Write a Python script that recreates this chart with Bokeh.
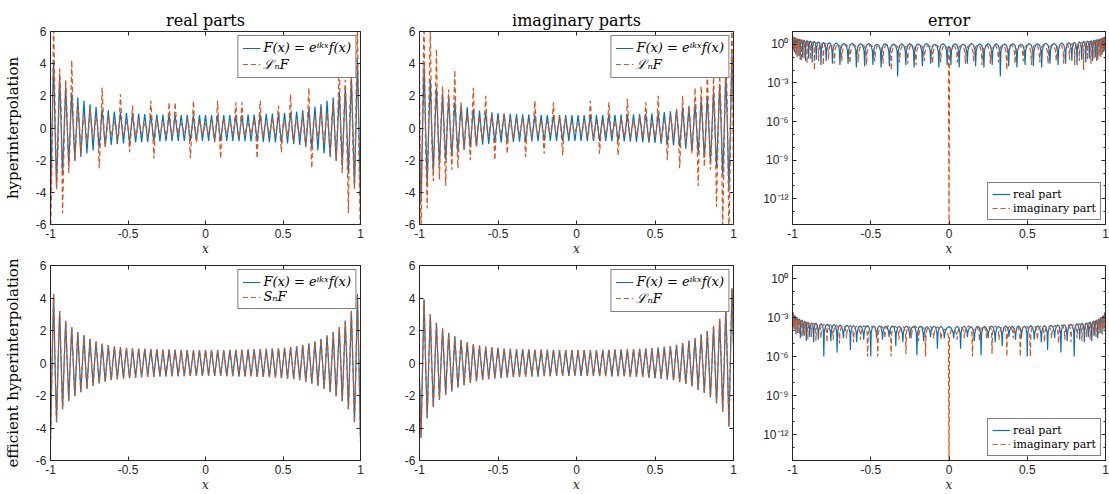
from bokeh.plotting import figure
from bokeh.layouts import row, column
from bokeh.models import Range1d, FixedTicker, LinearAxis, LogAxis, CustomJSTickFormatter
from bokeh.embed import file_html
from bokeh.resources import INLINE

# ---------------- data ----------------
x_ticks = [-1, -0.5, 0, 0.5, 1]
y_ticks = [-6, -4, -2, 0, 2, 4, 6]
log_ticks = [1e-12, 1e-9, 1e-6, 1e-3, 1]
log_minor = [1e-14, 1e-13, 1e-12, 1e-11, 1e-10, 1e-9, 1e-8, 1e-7, 1e-6, 1e-5,
             1e-4, 1e-3, 1e-2, 1e-1, 1, 10]

titles = ["real parts", "imaginary parts", "error"]
row_labels = ["hyperinterpolation", "efficient hyperinterpolation"]

# sample positions of the plotted curves (extrema and zero crossings of F)
x_grid = [
    -1.000, -0.990, -0.980, -0.971, -0.961, -0.951, -0.941, -0.931, -0.922, -0.912,
    -0.902, -0.892, -0.882, -0.873, -0.863, -0.853, -0.843, -0.833, -0.824, -0.814,
    -0.804, -0.794, -0.784, -0.775, -0.765, -0.755, -0.745, -0.735, -0.725, -0.716,
    -0.706, -0.696, -0.686, -0.676, -0.667, -0.657, -0.647, -0.637, -0.627, -0.618,
    -0.608, -0.598, -0.588, -0.578, -0.569, -0.559, -0.549, -0.539, -0.529, -0.520,
    -0.510, -0.500, -0.490, -0.480, -0.471, -0.461, -0.451, -0.441, -0.431, -0.422,
    -0.412, -0.402, -0.392, -0.382, -0.373, -0.363, -0.353, -0.343, -0.333, -0.324,
    -0.314, -0.304, -0.294, -0.284, -0.275, -0.265, -0.255, -0.245, -0.235, -0.225,
    -0.216, -0.206, -0.196, -0.186, -0.176, -0.167, -0.157, -0.147, -0.137, -0.127,
    -0.118, -0.108, -0.098, -0.088, -0.078, -0.069, -0.059, -0.049, -0.039, -0.029,
    -0.020, -0.010,
    0.000, 0.010, 0.020, 0.029, 0.039, 0.049, 0.059, 0.069, 0.078, 0.088,
    0.098, 0.108, 0.118, 0.127, 0.137, 0.147, 0.157, 0.167, 0.176, 0.186,
    0.196, 0.206, 0.216, 0.225, 0.235, 0.245, 0.255, 0.265, 0.275, 0.284,
    0.294, 0.304, 0.314, 0.324, 0.333, 0.343, 0.353, 0.363, 0.373, 0.382,
    0.392, 0.402, 0.412, 0.422, 0.431, 0.441, 0.451, 0.461, 0.471, 0.480,
    0.490, 0.500, 0.510, 0.520, 0.529, 0.539, 0.549, 0.559, 0.569, 0.578,
    0.588, 0.598, 0.608, 0.618, 0.627, 0.637, 0.647, 0.657, 0.667, 0.676,
    0.686, 0.696, 0.706, 0.716, 0.725, 0.735, 0.745, 0.755, 0.765, 0.775,
    0.784, 0.794, 0.804, 0.814, 0.824, 0.833, 0.843, 0.853, 0.863, 0.873,
    0.882, 0.892, 0.902, 0.912, 0.922, 0.931, 0.941, 0.951, 0.961, 0.971,
    0.980, 0.990, 1.000]

# Re F(x)
re_F = [
    -4.80, 0, 4.25, 0, -3.65, 0, 3.20, 0, -2.85, 0,
    2.60, 0, -2.35, 0, 2.20, 0, -2.05, 0, 1.90, 0,
    -1.80, 0, 1.70, 0, -1.58, 0, 1.47, 0, -1.40, 0,
    1.32, 0, -1.26, 0, 1.20, 0, -1.15, 0, 1.10, 0,
    -1.06, 0, 1.03, 0, -1.00, 0, 0.98, 0, -0.96, 0,
    0.94, 0, -0.93, 0, 0.91, 0, -0.90, 0, 0.89, 0,
    -0.88, 0, 0.87, 0, -0.86, 0, 0.85, 0, -0.85, 0,
    0.84, 0, -0.83, 0, 0.83, 0, -0.82, 0, 0.82, 0,
    -0.82, 0, 0.81, 0, -0.81, 0, 0.81, 0, -0.81, 0,
    0.80, 0, -0.80, 0, 0.80, 0, -0.80, 0, 0.80, 0,
    -0.80, 0,
    0.80,
    0, -0.80, 0, 0.80, 0, -0.80, 0, 0.80, 0, -0.80,
    0, 0.80, 0, -0.81, 0, 0.81, 0, -0.81, 0, 0.81,
    0, -0.82, 0, 0.82, 0, -0.82, 0, 0.83, 0, -0.83,
    0, 0.84, 0, -0.85, 0, 0.85, 0, -0.86, 0, 0.87,
    0, -0.88, 0, 0.89, 0, -0.90, 0, 0.91, 0, -0.93,
    0, 0.94, 0, -0.96, 0, 0.98, 0, -1.00, 0, 1.03,
    0, -1.06, 0, 1.10, 0, -1.15, 0, 1.20, 0, -1.26,
    0, 1.32, 0, -1.40, 0, 1.47, 0, -1.58, 0, 1.70,
    0, -1.80, 0, 1.90, 0, -2.05, 0, 2.20, 0, -2.35,
    0, 2.60, 0, -2.85, 0, 3.20, 0, -3.65, 0, 4.25,
    0, -4.80]

# Im F(x)
im_F = [
    -1.10, -4.60, 0, 3.90, 0, -3.40, 0, 3.00, 0, -2.72,
    0, 2.48, 0, -2.28, 0, 2.12, 0, -1.97, 0, 1.85,
    0, -1.75, 0, 1.64, 0, -1.52, 0, 1.43, 0, -1.36,
    0, 1.29, 0, -1.23, 0, 1.17, 0, -1.12, 0, 1.08,
    0, -1.04, 0, 1.01, 0, -0.99, 0, 0.97, 0, -0.95,
    0, 0.93, 0, -0.92, 0, 0.90, 0, -0.89, 0, 0.88,
    0, -0.87, 0, 0.86, 0, -0.85, 0, 0.85, 0, -0.84,
    0, 0.83, 0, -0.83, 0, 0.82, 0, -0.82, 0, 0.82,
    0, -0.81, 0, 0.81, 0, -0.81, 0, 0.81, 0, -0.80,
    0, 0.80, 0, -0.80, 0, 0.80, 0, -0.80, 0, 0.80,
    0, -0.80,
    0,
    0.80, 0, -0.80, 0, 0.80, 0, -0.80, 0, 0.80, 0,
    -0.80, 0, 0.80, 0, -0.81, 0, 0.81, 0, -0.81, 0,
    0.81, 0, -0.82, 0, 0.82, 0, -0.82, 0, 0.83, 0,
    -0.83, 0, 0.84, 0, -0.85, 0, 0.85, 0, -0.86, 0,
    0.87, 0, -0.88, 0, 0.89, 0, -0.90, 0, 0.92, 0,
    -0.93, 0, 0.95, 0, -0.97, 0, 0.99, 0, -1.01, 0,
    1.04, 0, -1.08, 0, 1.12, 0, -1.17, 0, 1.23, 0,
    -1.29, 0, 1.36, 0, -1.43, 0, 1.52, 0, -1.64, 0,
    1.75, 0, -1.85, 0, 1.97, 0, -2.12, 0, 2.28, 0,
    -2.48, 0, 2.72, 0, -3.00, 0, 3.40, 0, -3.90, 0,
    4.60, 1.10]

# Re L_n F (hyperinterpolation, real part)
re_L = [
    -7.00, -2.00,
    6.80, 1.50, -3.80, -1.20, 3.70, 1.00, -5.30, -0.80, 3.00, 0.50,
    -2.80, -0.60, 4.20, 0.50, -2.00, -0.30, 1.50, 0.40, -1.60, -0.20,
    0.90, 0.30, -1.00, -0.30, 1.20, 0.20, -0.60, -0.20, 0.70, 0.30,
    -2.50, -0.40, 2.50, 0.30, -1.20, -0.30, 0.80, 0.20, -0.50, -0.10,
    0.40, 0.20, -0.90, -0.30, 2.10, 0.20, -0.50, -0.10, 0.40, 0.20,
    -1.50, -0.30, 1.40, 0.20, -0.50, -0.20, 0.60, 0.10, -0.40, 0.00,
    0.30, 0.10, -0.60, -0.20, 1.70, 0.20, -1.90, -0.30, 0.60, 0.10,
    -0.40, 0.00, 0.30, 0.10, -0.50, -0.20, 1.60, 0.10, -0.60, -0.20,
    1.60, 0.20, -0.40, 0.10, 0.30, 0.00, -0.30, -0.10, 0.60, 0.20,
    -1.90, -0.30, 1.70, 0.20, -0.90, -0.20, 0.50, 0.10, -0.40, -0.10,
    0.30,
    -0.10, -0.40, 0.10, 0.50, -0.20, -0.90, 0.20, 1.70, -0.30, -1.90,
    0.20, 0.60, -0.10, -0.30, 0.00, 0.30, 0.10, -0.40, 0.20, 1.60,
    -0.20, -0.60, 0.10, 1.60, -0.20, -0.50, 0.10, 0.30, 0.00, -0.40,
    0.10, 0.60, -0.30, -1.90, 0.20, 1.70, -0.20, -0.60, 0.10, 0.30,
    0.00, -0.40, 0.10, 0.60, -0.20, -0.50, 0.20, 1.40, -0.30, -1.50,
    0.20, 0.40, -0.10, -0.50, 0.20, 2.10, -0.30, -0.90, 0.20, 0.40,
    -0.10, -0.50, 0.20, 0.80, -0.30, -1.20, 0.30, 2.50, -0.40, -2.50,
    0.30, 0.70, -0.20, -0.60, 0.20, 1.20, -0.30, -1.00, 0.30, 0.90,
    -0.20, -1.60, 0.40, 1.50, -0.30, -2.00, 0.50, 4.20, -0.60, -2.80,
    0.50, 3.00, -0.80, -5.30, 1.00, 3.70, -1.20, -3.80, 1.50, 6.80,
    -2.00, -7.00]

# Im L_n F (hyperinterpolation, imaginary part)
im_L = [
    3.00, -7.00,
    1.50, 7.00, -1.20, -5.00, 1.00, 6.50, -0.80, -3.30, 0.60, 4.90,
    -0.50, -3.20, 0.50, 2.60, -0.50, -3.60, 0.40, 2.40, -0.30, -2.60,
    0.40, 3.60, -0.40, -2.50, 0.30, 1.60, -0.30, -1.30, 0.20, 0.90,
    -0.20, -2.00, 0.30, 2.50, -0.30, -1.20, 0.20, 0.70, -0.20, -0.80,
    0.30, 2.00, -0.10, -0.50, 0.20, 0.80, -0.30, -2.00, 0.10, 0.60,
    -0.10, -0.40, 0.20, 0.90, -0.20, -1.60, 0.10, 0.60, -0.20, -0.70,
    0.10, 0.50, -0.10, -0.40, 0.10, 0.70, -0.20, -1.80, 0.20, 0.50,
    -0.10, -0.60, 0.20, 1.70, -0.10, -0.40, 0.10, 0.50, -0.20, -1.60,
    0.10, 0.40, -0.10, -0.50, 0.20, 1.60, -0.10, -0.40, 0.10, 0.70,
    -0.20, -1.70, 0.20, 0.60, -0.10, -0.50, 0.10, 0.40, -0.10, -0.30,
    0.00,
    0.30, 0.10, -0.40, -0.10, 0.50, 0.10, -0.60, -0.20, 1.70, 0.20,
    -0.70, -0.10, 0.40, 0.10, -1.60, -0.20, 0.50, 0.10, -0.40, -0.10,
    1.60, 0.20, -0.50, -0.10, 0.40, 0.10, -1.70, -0.20, 0.60, 0.10,
    -0.50, -0.20, 1.80, 0.20, -0.70, -0.10, 0.40, 0.10, -0.50, -0.10,
    0.70, 0.20, -0.60, -0.10, 1.60, 0.20, -0.90, -0.20, 0.40, 0.10,
    -0.60, -0.10, 2.00, 0.30, -0.80, -0.20, 0.50, 0.10, -2.00, -0.30,
    0.80, 0.20, -0.70, -0.20, 1.20, 0.30, -2.50, -0.30, 2.00, 0.20,
    -0.90, -0.20, 1.30, 0.30, -1.60, -0.30, 2.50, 0.40, -3.60, -0.40,
    2.60, 0.30, -2.40, -0.40, 3.60, 0.50, -2.60, -0.50, 3.20, 0.50,
    -4.90, -0.60, 3.30, 0.80, -6.50, -1.00, 5.00, 1.20, -7.00, -1.50,
    7.00, -3.00]

# S_n F and the efficient L_n F agree with F to ~1e-4 (invisible at this scale)
re_S = list(re_F)
im_S = list(im_F)

# error curves: cusp positions, cusp depths (log10) and arc levels (log10)
e1_x = [-0.996, -0.988, -0.977, -0.965, -0.951, -0.935, -0.917, -0.897, -0.874, -0.848,
        -0.818, -0.785, -0.745, -0.697, -0.645, -0.592, -0.539, -0.486, -0.434, -0.381,
        -0.328, -0.276, -0.223, -0.170, -0.117, -0.065, -0.012,
        0.012, 0.065, 0.117, 0.170, 0.223, 0.276, 0.328, 0.381, 0.434, 0.486,
        0.539, 0.592, 0.645, 0.697, 0.745, 0.785, 0.818, 0.848, 0.874, 0.897,
        0.917, 0.935, 0.951, 0.965, 0.977, 0.988, 0.996]
e1_d = [-0.4, -0.6, -0.8, -0.9, -1.2, -1.0, -1.3, -1.1, -1.4, -1.2,
        -1.6, -1.3, -1.5, -1.6, -1.5, -1.8, -1.7, -1.6, -1.8, -1.7,
        -2.5, -1.6, -1.8, -1.7, -1.5, -1.8, -1.6,
        -1.6, -1.8, -1.5, -1.7, -1.8, -1.6, -2.5, -1.7, -1.8, -1.6,
        -1.7, -1.8, -1.5, -1.6, -1.5, -1.3, -1.6, -1.2, -1.4, -1.1,
        -1.3, -1.0, -1.2, -0.9, -0.8, -0.6, -0.4]
e1_t = [0.55, 0.58, 0.52, 0.47, 0.42, 0.38, 0.34, 0.30, 0.26, 0.23,
        0.19, 0.16, 0.13, 0.10, 0.07, 0.08, 0.05, 0.06, 0.02, 0.05,
        0.03, 0.04, 0.05, 0.03, 0.06, 0.02, 0.05, -0.15,
        0.05, 0.02, 0.06, 0.03, 0.05, 0.04, 0.03, 0.05, 0.02, 0.06,
        0.05, 0.08, 0.07, 0.10, 0.13, 0.16, 0.19, 0.23, 0.26, 0.30,
        0.34, 0.38, 0.42, 0.47, 0.52, 0.58, 0.55]

e2_x = [-0.991, -0.981, -0.970, -0.957, -0.943, -0.926, -0.907, -0.885, -0.860, -0.833,
        -0.803, -0.770, -0.733, -0.685, -0.633, -0.580, -0.527, -0.474, -0.422, -0.369,
        -0.316, -0.264, -0.211, -0.158, -0.105, -0.053, 0.000,
        0.053, 0.105, 0.158, 0.211, 0.264, 0.316, 0.369, 0.422, 0.474, 0.527,
        0.580, 0.633, 0.685, 0.733, 0.770, 0.803, 0.833, 0.860, 0.885, 0.907,
        0.926, 0.943, 0.957, 0.970, 0.981, 0.991]
e2_d = [-0.5, -0.7, -1.0, -0.9, -1.3, -1.1, -1.5, -1.2, -2.0, -1.3,
        -1.6, -1.2, -1.5, -1.3, -1.5, -1.4, -1.6, -1.3, -1.5, -2.0,
        -1.4, -1.5, -1.6, -1.3, -1.5, -1.4, -15.0,
        -1.4, -1.5, -1.3, -1.6, -1.5, -1.4, -2.0, -1.5, -1.3, -1.6,
        -1.4, -1.5, -1.3, -1.5, -1.2, -1.6, -1.3, -2.0, -1.2, -1.5,
        -1.1, -1.3, -0.9, -1.0, -0.7, -0.5]
e2_t = [0.50, 0.53, 0.47, 0.41, 0.36, 0.31, 0.27, 0.23, 0.19, 0.15,
        0.11, 0.08, 0.04, 0.00, -0.02, -0.05, -0.03, -0.05, -0.07, -0.04,
        -0.06, -0.05, -0.07, -0.04, -0.08, -0.06, -0.10, -0.10,
        -0.06, -0.08, -0.04, -0.07, -0.05, -0.06, -0.04, -0.07, -0.05, -0.03,
        -0.05, -0.02, 0.00, 0.04, 0.08, 0.11, 0.15, 0.19, 0.23, 0.27,
        0.31, 0.36, 0.41, 0.47, 0.53, 0.50]

e3_x = [-0.990, -0.978, -0.965, -0.950, -0.932, -0.912, -0.890, -0.865, -0.835, -0.800,
        -0.755, -0.715, -0.675, -0.630, -0.590, -0.545, -0.500, -0.463, -0.425, -0.383,
        -0.340, -0.295, -0.250, -0.205, -0.162, -0.118, -0.074, -0.030,
        0.030, 0.074, 0.118, 0.162, 0.205, 0.250, 0.295, 0.340, 0.383, 0.425,
        0.463, 0.500, 0.545, 0.590, 0.630, 0.675, 0.715, 0.755, 0.800, 0.835,
        0.865, 0.890, 0.912, 0.932, 0.950, 0.965, 0.978, 0.990]
e3_d = [-3.9, -4.3, -4.2, -4.6, -4.4, -4.8, -4.5, -4.9, -4.7, -6.0,
        -4.8, -5.7, -4.6, -5.5, -4.9, -4.7, -6.0, -4.6, -4.7, -4.5,
        -5.2, -4.9, -4.6, -5.9, -4.8, -4.5, -5.4, -4.6,
        -4.6, -5.4, -4.5, -4.8, -5.9, -4.6, -4.9, -5.2, -4.5, -4.7,
        -4.6, -6.0, -4.7, -4.9, -5.5, -4.6, -5.7, -4.8, -6.0, -4.7,
        -4.9, -4.5, -4.8, -4.4, -4.6, -4.2, -4.3, -3.9]
e3_t = [-2.65, -2.85, -3.00, -3.10, -3.20, -3.28, -3.35, -3.40, -3.44, -3.48,
        -3.52, -3.55, -3.58, -3.60, -3.62, -3.65, -3.63, -3.66, -3.64, -3.67,
        -3.65, -3.68, -3.66, -3.69, -3.67, -3.70, -3.66, -3.68, -3.70,
        -3.68, -3.66, -3.70, -3.67, -3.69, -3.66, -3.68, -3.65, -3.67, -3.64,
        -3.66, -3.63, -3.65, -3.62, -3.60, -3.58, -3.55, -3.52, -3.48, -3.44,
        -3.40, -3.35, -3.28, -3.20, -3.10, -3.00, -2.85, -2.65]

e4_x = [-0.993, -0.982, -0.970, -0.956, -0.940, -0.922, -0.902, -0.878, -0.850, -0.818,
        -0.780, -0.740, -0.700, -0.655, -0.610, -0.565, -0.520, -0.455, -0.410, -0.370,
        -0.320, -0.275, -0.240, -0.195, -0.150, -0.098, -0.052, 0.000,
        0.052, 0.098, 0.150, 0.195, 0.240, 0.275, 0.320, 0.370, 0.410, 0.455,
        0.520, 0.565, 0.610, 0.655, 0.700, 0.740, 0.780, 0.818, 0.850, 0.878,
        0.902, 0.922, 0.940, 0.956, 0.970, 0.982, 0.993]
e4_d = [-3.8, -4.0, -4.2, -4.3, -4.5, -4.4, -4.7, -4.5, -4.8, -4.6,
        -4.9, -4.7, -5.0, -4.6, -4.9, -4.7, -6.0, -6.0, -4.6, -6.0,
        -4.7, -5.8, -4.6, -4.8, -6.0, -4.6, -4.7, -15.0,
        -4.7, -4.6, -6.0, -4.8, -4.6, -5.8, -4.7, -6.0, -4.6, -6.0,
        -6.0, -4.7, -4.9, -4.6, -5.0, -4.7, -4.9, -4.6, -4.8, -4.5,
        -4.7, -4.4, -4.5, -4.3, -4.2, -4.0, -3.8]
e4_t = [-2.65, -2.85, -3.00, -3.10, -3.19, -3.27, -3.34, -3.40, -3.44, -3.48,
        -3.52, -3.55, -3.58, -3.61, -3.62, -3.66, -3.63, -3.65, -3.67, -3.64,
        -3.68, -3.66, -3.69, -3.65, -3.70, -3.66, -3.72, -3.90, -3.90,
        -3.72, -3.66, -3.70, -3.65, -3.69, -3.66, -3.68, -3.64, -3.67, -3.65,
        -3.63, -3.66, -3.62, -3.61, -3.58, -3.55, -3.52, -3.48, -3.44, -3.40,
        -3.34, -3.27, -3.19, -3.10, -3.00, -2.85, -2.65]

for s in (re_F, im_F, re_L, im_L):
    assert len(s) == len(x_grid), len(s)
for cx, cd, ct in ((e1_x, e1_d, e1_t), (e2_x, e2_d, e2_t), (e3_x, e3_d, e3_t), (e4_x, e4_d, e4_t)):
    assert len(cx) == len(cd) and len(ct) == len(cx) + 1, (len(cx), len(cd), len(ct))

# ---------------- styling ----------------
BLUE, ORANGE, AXC = "#0072BD", "#D95319", "#262626"
SANS, SERIF = "Liberation Sans", "DejaVu Serif"
DASH = "5 3"
LW = 1.2

lin_fmt = CustomJSTickFormatter(code="return String(tick);")
log_fmt = CustomJSTickFormatter(code="""
const e = Math.round(Math.log10(tick));
const m = {"-":"\u207b","0":"\u2070","1":"\u00b9","2":"\u00b2","3":"\u00b3","4":"\u2074",
           "5":"\u2075","6":"\u2076","7":"\u2077","8":"\u2078","9":"\u2079"};
return "10" + String(e).split("").map(c => m[c]).join("");
""")
empty_fmt = CustomJSTickFormatter(code="return '';")


def style_axis(ax, labels=True):
    ax.axis_line_color = AXC
    ax.axis_line_width = 1
    ax.major_tick_line_color = AXC
    ax.minor_tick_line_color = AXC
    ax.major_tick_in = 4
    ax.major_tick_out = 0
    ax.minor_tick_in = 2
    ax.minor_tick_out = 0
    ax.major_label_text_font = SANS
    ax.major_label_text_color = AXC
    if labels:
        ax.major_label_text_font_size = "12px"
        ax.major_label_standoff = 4
    else:
        ax.major_label_text_font_size = "0px"
        ax.major_label_standoff = 0


def panel(width, height, bl, br, bt, bb, log=False, title=None, ylabel=None):
    p = figure(width=width, height=height, output_backend="svg", toolbar_location=None,
               x_range=Range1d(-1, 1),
               y_range=Range1d(1e-14, 10) if log else Range1d(-6, 6),
               y_axis_type="log" if log else "linear",
               min_border_left=bl, min_border_right=br,
               min_border_top=bt, min_border_bottom=bb)
    p.grid.visible = False
    p.outline_line_color = AXC
    p.outline_line_width = 1
    xt = FixedTicker(ticks=x_ticks)
    yt = FixedTicker(ticks=log_ticks, minor_ticks=log_minor) if log else FixedTicker(ticks=y_ticks)
    xa = p.below[0]
    ya = p.left[0]
    xa.ticker = xt
    xa.formatter = lin_fmt
    ya.ticker = yt
    ya.formatter = log_fmt if log else lin_fmt
    style_axis(xa)
    style_axis(ya)
    xa.axis_label = "x"
    xa.axis_label_text_font = SERIF
    xa.axis_label_text_font_style = "italic"
    xa.axis_label_text_font_size = "12px"
    xa.axis_label_text_color = AXC
    xa.axis_label_standoff = 1
    if ylabel:
        ya.axis_label = ylabel
        ya.axis_label_text_font = SERIF
        ya.axis_label_text_font_style = "normal"
        ya.axis_label_text_font_size = "15px"
        ya.axis_label_text_color = "black"
        ya.axis_label_standoff = 11
    top = LinearAxis(ticker=xt, formatter=empty_fmt)
    style_axis(top, labels=False)
    p.add_layout(top, "above")
    right = (LogAxis if log else LinearAxis)(ticker=yt, formatter=empty_fmt)
    style_axis(right, labels=False)
    p.add_layout(right, "right")
    if title:
        p.title.text = title
        p.title.align = "center"
        p.title.text_font = SERIF
        p.title.text_font_size = "16px"
        p.title.text_font_style = "normal"
        p.title.text_color = "black"
        p.title.standoff = 3
    return p


def style_legend(p, loc, italic):
    lg = p.legend
    lg.location = loc
    lg.margin = 4
    lg.padding = 4
    lg.spacing = 0
    lg.glyph_width = 18
    lg.glyph_height = 14
    lg.label_height = 14
    lg.label_standoff = 3
    lg.label_text_font = SERIF
    lg.label_text_font_size = "13px" if italic else "11px"
    lg.label_text_font_style = "italic" if italic else "normal"
    lg.label_text_color = "black"
    lg.border_line_color = "black"
    lg.border_line_width = 0.8
    lg.background_fill_color = "white"
    lg.background_fill_alpha = 1.0


def arcs(cx, cd, ct):
    """Polyline through the read cusps (depth) and arc tops (level), drawn as rounded arcs."""
    bounds = [-1.0] + list(cx) + [1.0]
    xs, ys = [], []
    for i in range(len(bounds) - 1):
        a, b = bounds[i], bounds[i + 1]
        t = ct[i]
        da = cd[i - 1] if i > 0 else t
        db = cd[i] if i < len(cx) else t
        g = b - a
        if i > 0:
            xs.append(a)
            ys.append(da)
            xs.append(a + 0.07 * g)
            ys.append(t - min(0.55, 0.5 * (t - da)))
        xs.append(a + 0.25 * g)
        ys.append(t - 0.12 if i > 0 else t)
        xs.append(a + 0.5 * g)
        ys.append(t)
        xs.append(b - 0.25 * g)
        ys.append(t - 0.12 if i < len(cx) else t)
        if i < len(cx):
            xs.append(b - 0.07 * g)
            ys.append(t - min(0.55, 0.5 * (t - db)))
    xs.append(cx[-1])
    ys.append(cd[-1])
    pts = sorted(zip(xs, ys), key=lambda q: q[0])
    pts = [(-1.0, ct[0])] + pts + [(1.0, ct[-1])]
    return [q[0] for q in pts], [10.0 ** q[1] for q in pts]


LABEL_F = "F(x) = e\u2071\u1d4f\u02e3f(x)"
LABEL_L = "\u2112\u2099F"
LABEL_S = "S\u2099F"

H1, H2 = 258, 236
cols = [(389, 47, 29), (371, 30, 27), (349, 31, 4)]

# ---- row 1 ----
p1 = panel(cols[0][0], H1, cols[0][1], cols[0][2], 31, 31, title=titles[0], ylabel=row_labels[0])
p1.line(x_grid, re_F, line_color=BLUE, line_width=LW, legend_label=LABEL_F)
p1.line(x_grid, re_L, line_color=ORANGE, line_width=LW, line_dash=DASH, legend_label=LABEL_L)
style_legend(p1, "top_right", True)

p2 = panel(cols[1][0], H1, cols[1][1], cols[1][2], 31, 31, title=titles[1])
p2.line(x_grid, im_F, line_color=BLUE, line_width=LW, legend_label=LABEL_F)
p2.line(x_grid, im_L, line_color=ORANGE, line_width=LW, line_dash=DASH, legend_label=LABEL_L)
style_legend(p2, "top_right", True)

p3 = panel(cols[2][0], H1, cols[2][1], cols[2][2], 31, 31, log=True, title=titles[2])
ax1, ay1 = arcs(e1_x, e1_d, e1_t)
ax2, ay2 = arcs(e2_x, e2_d, e2_t)
p3.line(ax1, ay1, line_color=BLUE, line_width=LW, legend_label="real part")
p3.line(ax2, ay2, line_color=ORANGE, line_width=LW, line_dash=DASH, legend_label="imaginary part")
style_legend(p3, "bottom_right", False)

# ---- row 2 ----
p4 = panel(cols[0][0], H2, cols[0][1], cols[0][2], 7, 33, ylabel=row_labels[1])
p4.line(x_grid, re_F, line_color=BLUE, line_width=LW, legend_label=LABEL_F)
p4.line(x_grid, re_S, line_color=ORANGE, line_width=LW, line_dash=DASH, legend_label=LABEL_S)
style_legend(p4, "top_right", True)

p5 = panel(cols[1][0], H2, cols[1][1], cols[1][2], 7, 33)
p5.line(x_grid, im_F, line_color=BLUE, line_width=LW, legend_label=LABEL_F)
p5.line(x_grid, im_S, line_color=ORANGE, line_width=LW, line_dash=DASH, legend_label=LABEL_L)
style_legend(p5, "top_right", True)

p6 = panel(cols[2][0], H2, cols[2][1], cols[2][2], 7, 33, log=True)
bx1, by1 = arcs(e3_x, e3_d, e3_t)
bx2, by2 = arcs(e4_x, e4_d, e4_t)
p6.line(bx1, by1, line_color=BLUE, line_width=LW, legend_label="real part")
p6.line(bx2, by2, line_color=ORANGE, line_width=LW, line_dash=DASH, legend_label="imaginary part")
style_legend(p6, "bottom_right", False)

layout = column(row(p1, p2, p3), row(p4, p5, p6))
open("out.html", "w").write(file_html(layout, INLINE))
